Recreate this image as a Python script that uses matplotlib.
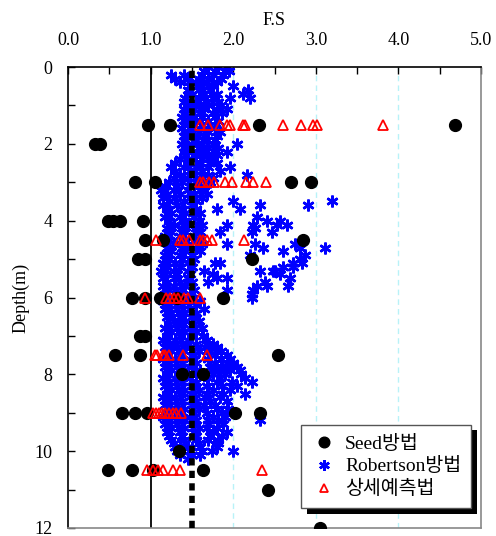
import matplotlib
matplotlib.use("Agg")
import matplotlib.pyplot as plt
import matplotlib.patheffects as pe
from matplotlib.ticker import MultipleLocator

plt.rcParams['font.family'] = ['Liberation Serif', 'Noto Sans CJK KR']

# ---- Seed method (black dots): depth (m), F.S
seed_depth = [1.5, 1.5, 1.5, 1.5,
              2.0, 2.0,
              3.0, 3.0, 3.0, 3.0,
              4.0, 4.0, 4.0, 4.0,
              4.5, 4.5, 4.5,
              5.0, 5.0, 5.0,
              6.0, 6.0, 6.0, 6.0, 6.0,
              7.0, 7.0,
              7.5, 7.5, 7.5,
              8.0, 8.0,
              9.0, 9.0, 9.0, 9.0, 9.0,
              10.0,
              10.5, 10.5, 10.5, 10.5,
              11.0,
              12.0]
seed_fs = [0.97, 1.23, 2.31, 4.68,
           0.33, 0.39,
           0.81, 1.05, 2.70, 2.94,
           0.48, 0.55, 0.63, 0.91,
           0.93, 1.15, 2.84,
           0.85, 0.93, 2.23,
           0.78, 0.93, 1.11, 1.32, 1.88,
           0.87, 0.93,
           0.57, 0.87, 2.54,
           1.38, 1.63,
           0.65, 0.81, 0.96, 2.02, 2.32,
           1.34,
           0.49, 0.77, 1.03, 1.63,
           2.42,
           3.05]

# ---- detailed prediction (red open triangles)
tri_depth = [1.5] * 12 + [3.0] * 9 + [4.5] * 9 + [6.0] * 8 + [7.5] * 7 + [9.0] * 9 + [10.5] * 7
tri_fs = [1.60, 1.70, 1.84, 1.92, 1.96, 2.12, 2.14, 2.60, 2.82, 2.97, 3.01, 3.81,
          1.60, 1.63, 1.71, 1.77, 1.90, 1.99, 2.15, 2.24, 2.40,
          1.07, 1.36, 1.39, 1.46, 1.60, 1.64, 1.68, 1.74, 2.13,
          0.93, 1.19, 1.23, 1.28, 1.33, 1.40, 1.45, 1.60,
          1.05, 1.08, 1.15, 1.18, 1.22, 1.39, 1.68,
          1.03, 1.06, 1.10, 1.14, 1.18, 1.22, 1.27, 1.31, 1.37,
          0.96, 1.03, 1.09, 1.15, 1.27, 1.35, 2.35]

# ---- Robertson method (blue asterisks): one row of F.S values per depth
rob_row_depth = [0.0, 0.1, 0.2, 0.3, 0.4, 0.5, 0.6, 0.7, 0.8, 0.9,
                 1.0, 1.1, 1.2, 1.3, 1.4, 1.5, 1.6, 1.7, 1.8, 1.9,
                 2.0, 2.1, 2.2, 2.3, 2.4, 2.5, 2.6, 2.7, 2.8, 2.9,
                 3.0, 3.1, 3.2, 3.3, 3.4, 3.5, 3.6, 3.7, 3.8, 3.9,
                 4.0, 4.1, 4.2, 4.3, 4.4, 4.5, 4.6, 4.7, 4.8, 4.9,
                 5.0, 5.1, 5.2, 5.3, 5.4, 5.5, 5.6, 5.7, 5.8, 5.9,
                 6.0, 6.1, 6.2, 6.3, 6.4, 6.5, 6.6, 6.7, 6.8, 6.9,
                 7.0, 7.1, 7.2, 7.3, 7.4, 7.5, 7.6, 7.7, 7.8, 7.9,
                 8.0, 8.1, 8.2, 8.3, 8.4, 8.5, 8.6, 8.7, 8.8, 8.9,
                 9.0, 9.1, 9.2, 9.3, 9.4, 9.5, 9.6, 9.7, 9.8, 9.9,
                 10.0, 10.1, 10.2]
rob_row_fs = [
    [1.70, 1.82, 1.92], [1.65, 1.78, 1.90, 1.95], [1.25, 1.40, 1.62, 1.75, 1.88],
    [1.30, 1.45, 1.58, 1.70, 1.85], [1.35, 1.55, 1.68, 1.80], [1.48, 1.62, 1.75, 2.00],
    [1.45, 1.58, 1.72, 2.18], [1.50, 1.65, 1.80, 2.12], [1.42, 1.60, 1.75, 1.96, 2.20],
    [1.40, 1.55, 1.68, 1.82],
    [1.45, 1.58, 1.70, 1.85], [1.40, 1.52, 1.65, 1.80, 1.92], [1.42, 1.60, 1.75, 1.86],
    [1.38, 1.50, 1.62, 1.78], [1.45, 1.55, 1.70, 1.82], [1.40, 1.52, 1.62, 1.72],
    [1.38, 1.50, 1.65, 1.78], [1.45, 1.58, 1.70, 1.84], [1.40, 1.52, 1.65, 1.80],
    [1.42, 1.55, 1.68, 1.78],
    [1.38, 1.50, 1.62, 1.75, 2.05], [1.45, 1.58, 1.70, 1.82], [1.40, 1.50, 1.65, 1.78, 1.92],
    [1.42, 1.55, 1.68, 1.80], [1.36, 1.50, 1.62, 1.75], [1.30, 1.45, 1.60, 1.72, 1.80],
    [1.25, 1.40, 1.55, 1.70, 1.96], [1.30, 1.48, 1.62, 1.84], [1.35, 1.52, 1.70, 2.17],
    [1.28, 1.45, 1.60, 1.75],
    [1.22, 1.38, 1.55, 1.72], [1.18, 1.32, 1.48, 1.65], [1.12, 1.28, 1.45, 1.60],
    [1.20, 1.35, 1.52, 1.68], [1.15, 1.30, 1.48, 1.62], [1.22, 1.40, 1.55, 2.00, 3.20],
    [1.15, 1.32, 1.50, 2.32, 2.90], [1.20, 1.38, 1.55, 1.80, 2.08], [1.25, 1.42, 1.60],
    [1.18, 1.35, 1.52, 2.29],
    [1.22, 1.40, 1.58, 2.41, 2.57], [1.28, 1.45, 1.62, 1.92, 2.24, 2.53, 2.65],
    [1.20, 1.38, 1.55, 2.26], [1.25, 1.42, 1.60, 1.84, 2.23, 2.47], [1.18, 1.35, 1.52],
    [1.22, 1.40, 1.58], [1.28, 1.45, 1.62, 1.92, 2.26, 2.75],
    [1.20, 1.38, 1.55, 2.36, 2.81, 3.11], [1.25, 1.42, 1.60, 2.60],
    [1.18, 1.35, 1.50, 2.20, 2.87],
    [1.22, 1.38, 1.52, 2.81], [1.15, 1.30, 1.45, 1.78, 1.84, 2.72, 2.83],
    [1.20, 1.35, 1.50, 2.60, 2.72], [1.12, 1.28, 1.45, 1.65, 2.32, 2.48, 2.50],
    [1.18, 1.32, 1.48, 1.75, 2.57], [1.15, 1.30, 1.45, 1.80, 1.92, 2.69],
    [1.20, 1.35, 1.50, 1.70, 2.38], [1.15, 1.28, 1.42, 2.29, 2.41, 2.66],
    [1.22, 1.38, 1.52, 1.92, 2.24], [1.18, 1.32, 1.48, 2.23],
    [1.20, 1.35, 1.50, 2.23], [1.15, 1.30, 1.45, 1.60], [1.22, 1.38, 1.55],
    [1.18, 1.32, 1.48, 1.65], [1.25, 1.40, 1.55], [1.20, 1.35, 1.50],
    [1.28, 1.42, 1.58], [1.22, 1.38, 1.52], [1.18, 1.32, 1.48, 1.62], [1.25, 1.40, 1.55],
    [1.20, 1.35, 1.50, 1.64], [1.15, 1.30, 1.45, 1.68], [1.22, 1.38, 1.55, 1.75],
    [1.18, 1.32, 1.48, 1.66, 1.80], [1.25, 1.40, 1.58, 1.72, 1.85],
    [1.20, 1.35, 1.52, 1.78, 1.92],
    [1.15, 1.30, 1.48, 1.70, 1.85, 1.96], [1.22, 1.38, 1.55, 1.78, 1.92, 2.00],
    [1.18, 1.32, 1.50, 1.72, 1.86, 2.05], [1.25, 1.40, 1.55, 1.82, 1.96, 2.08],
    [1.20, 1.35, 1.50, 1.75, 1.90, 2.10], [1.15, 1.30, 1.48, 1.70, 1.84, 2.14],
    [1.22, 1.38, 1.55, 1.80, 1.98, 2.23], [1.18, 1.32, 1.50, 1.68, 1.86, 2.05],
    [1.25, 1.40, 1.58, 1.76, 1.96], [1.20, 1.35, 1.52, 1.70, 1.88, 2.14],
    [1.15, 1.30, 1.48, 1.66, 1.84], [1.22, 1.38, 1.55, 1.72, 1.92],
    [1.18, 1.32, 1.50, 1.65, 1.78], [1.25, 1.40, 1.58, 1.80, 1.94],
    [1.20, 1.35, 1.52, 1.68, 1.86], [1.15, 1.30, 1.48, 1.75, 1.90],
    [1.22, 1.38, 1.55, 1.70, 1.82, 2.32], [1.18, 1.32, 1.50, 1.70, 1.88],
    [1.25, 1.40, 1.58, 1.68, 1.80], [1.20, 1.35, 1.52, 1.76, 1.92],
    [1.22, 1.38, 1.55, 1.72, 1.86], [1.25, 1.40, 1.55, 1.70, 1.82],
    [1.28, 1.42, 1.58, 1.82], [1.30, 1.45, 1.60, 1.80],
    [1.32, 1.48, 1.62, 1.74, 2.00], [1.35, 1.50, 1.60], [1.45],
]

rob_depth, rob_fs = [], []
for d, row in zip(rob_row_depth, rob_row_fs):
    for v in row:
        rob_depth.append(d)
        rob_fs.append(v)

legend_labels = ["Seed방법", "Robertson방법", "상세예측법"]

fig = plt.figure(figsize=(4.96, 5.36), dpi=100)
ax = fig.add_axes([68 / 496, 1 - 528 / 536, 413 / 496, 461 / 536])

# light dashed grid lines and reference lines
for gx in [2.0, 3.0, 4.0]:
    ax.axvline(gx, color="#b8f2f8", lw=1, ls=(0, (4, 3)), zorder=0)
ax.axvline(1.0, color="black", lw=1.3, zorder=1)

hr, = ax.plot(rob_fs, rob_depth, ls="none", marker=(6, 2, 0), ms=8.5, mew=1.8,
              color="#0000ff", zorder=2, label=legend_labels[1])
ax.axvline(1.5, color="black", lw=4.0, ls=(0, (1.3, 0.95)), zorder=3)
hs, = ax.plot(seed_fs, seed_depth, ls="none", marker="o", ms=8.5,
              color="black", zorder=4, label=legend_labels[0])
ht, = ax.plot(tri_fs, tri_depth, ls="none", marker="^", ms=6.5, mew=1.3,
              mfc="none", mec="#ff0000", zorder=5, label=legend_labels[2])

ax.set_xlim(0, 5)
ax.set_ylim(12, 0)
ax.xaxis.tick_top()
ax.xaxis.set_label_position("top")
ax.xaxis.set_minor_locator(MultipleLocator(0.5))
ax.yaxis.set_major_locator(MultipleLocator(2))
ax.yaxis.set_minor_locator(MultipleLocator(1))
ax.set_xticks([0, 1, 2, 3, 4, 5], ["0.0", "1.0", "2.0", "3.0", "4.0", "5.0"])
ax.tick_params(axis="x", which="both", direction="in", length=5, width=1,
               labelsize=13, pad=13, top=True, bottom=False)
ax.tick_params(axis="y", which="both", direction="in", length=5, width=1,
               labelsize=13, pad=11, left=True, right=False)
ax.set_xlabel("F.S", fontsize=13, labelpad=5)
ax.set_ylabel("Depth(m)", fontsize=13, labelpad=4)

for s in ["top", "left"]:
    ax.spines[s].set_color("black")
    ax.spines[s].set_linewidth(1.2)
for s in ["right", "bottom"]:
    ax.spines[s].set_color("#888888")
    ax.spines[s].set_linewidth(1.2)

leg = ax.legend(handles=[hs, hr, ht], loc="lower right",
                bbox_to_anchor=(0.976, 0.043), borderaxespad=0,
                fontsize=14, frameon=True, fancybox=False, framealpha=1,
                edgecolor="#555555", handlelength=1.3, handletextpad=0.45,
                borderpad=0.5, labelspacing=0.25, markerscale=0.9)
leg.get_frame().set_linewidth(1)
leg.get_frame().set_path_effects([
    pe.SimplePatchShadow(offset=(4, -4), shadow_rgbFace="black", alpha=1.0),
    pe.Normal()])
leg.set_zorder(10)

fig.savefig("out.png", dpi=100)
